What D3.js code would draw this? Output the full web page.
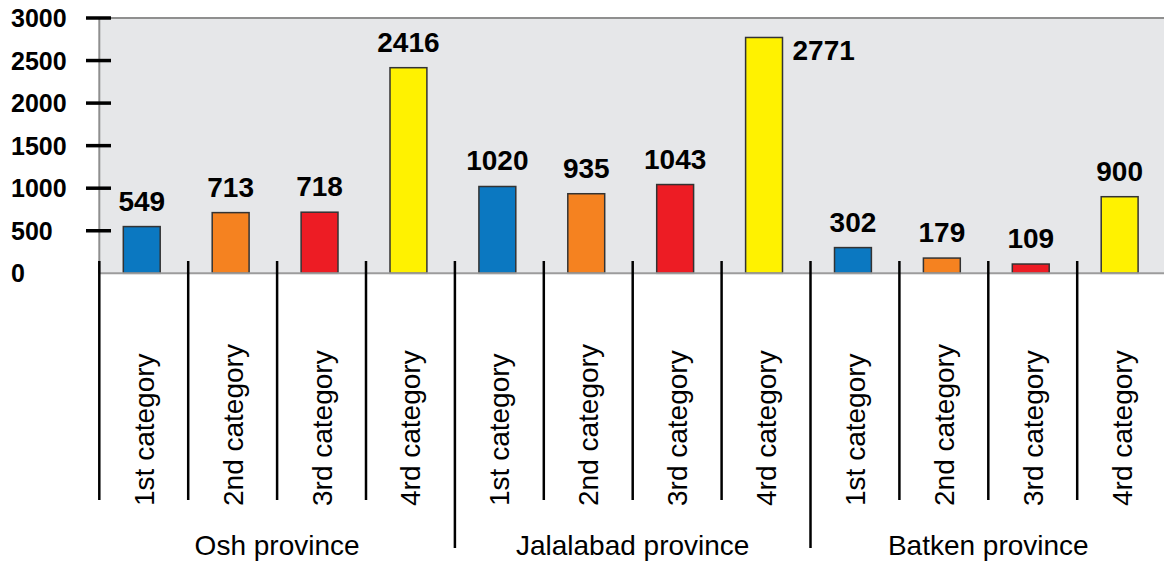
<!DOCTYPE html>
<html>
  <head>
      <title>Categories by province</title>
      <script src="https://cdn.jsdelivr.net/npm/d3@7"></script>
      <style>
        body { margin:0; background:#fff; }
        text { font-family: "Liberation Sans", Arial, sans-serif; }
      </style>
  </head>
  <body>
        <div id="chart"></div>
        <script>
           var provinces = ["Osh province", "Jalalabad province", "Batken province"]
           var categories = ["1st category", "2nd category", "3rd category", "4rd category"]
           var oshValues = [549, 713, 718, 2416]
           var jalalabadValues = [1020, 935, 1043, 2771]
           var batkenValues = [302, 179, 109, 900]
           var yTicks = [0, 500, 1000, 1500, 2000, 2500, 3000]
           var colors = ["#0b78c1", "#f58220", "#ed1c24", "#fff200"]

           var seriesValues = [oshValues, jalalabadValues, batkenValues]
           var rows = []
           seriesValues.forEach((vals, pi) => {
               vals.forEach((v, ci) => rows.push({key: pi + "-" + ci, province: pi, cat: ci, value: v}))
           })

           var width = 1164, height = 563
           var plotLeft = 99.3, plotTop = 18, plotBottom = 273.3
           var step = 88.9

           var svg = d3.select("#chart").append("svg").attr("width", width).attr("height", height)

           var x = d3.scaleBand().domain(rows.map(d => d.key)).range([plotLeft, plotLeft + rows.length * step]).padding(0)
           var y = d3.scaleLinear().domain([0, 3000]).range([plotBottom, plotTop])

           // plot background
           svg.append("rect").attr("x", plotLeft).attr("y", plotTop).attr("width", rows.length * step).attr("height", plotBottom - plotTop)
              .attr("fill", "#e6e7e9")
           svg.append("line").attr("x1", plotLeft).attr("x2", width).attr("y1", plotTop).attr("y2", plotTop)
              .attr("stroke", "#8f8f8f").attr("stroke-width", 2)
           svg.append("line").attr("x1", plotLeft).attr("x2", plotLeft).attr("y1", plotTop).attr("y2", plotBottom)
              .attr("stroke", "#8f8f8f").attr("stroke-width", 2)

           // y axis: dashes + left aligned labels
           var yAxis = svg.append("g")
           yAxis.selectAll("line").data(yTicks.filter(t => t > 0)).enter().append("line")
              .attr("x1", 86).attr("x2", 111).attr("y1", d => y(d)).attr("y2", d => y(d))
              .attr("stroke", "#000").attr("stroke-width", 3.5)
           yAxis.selectAll("text").data(yTicks).enter().append("text")
              .attr("x", 11).attr("y", d => y(d) + 9).text(d => d)
              .attr("font-size", 25).attr("font-weight", "bold").attr("fill", "#000")

           // bars
           var barOffset = step * 0.27, barWidth = step * 0.415
           svg.selectAll("rect.bar").data(rows).enter().append("rect").attr("class", "bar")
              .attr("x", d => x(d.key) + barOffset).attr("width", barWidth)
              .attr("y", d => y(d.value)).attr("height", d => y(0) - y(d.value))
              .attr("fill", d => colors[d.cat]).attr("stroke", "#333").attr("stroke-width", 1.5)

           // baseline
           svg.append("line").attr("x1", plotLeft).attr("x2", width).attr("y1", plotBottom).attr("y2", plotBottom)
              .attr("stroke", "#9c9c9c").attr("stroke-width", 2)

           // value labels (move to the right of the bar when it reaches the top)
           var fitsAbove = d => y(d.value) - 16 - 20 > plotTop
           svg.selectAll("text.val").data(rows).enter().append("text").attr("class", "val")
              .attr("x", d => fitsAbove(d) ? x(d.key) + barOffset + barWidth / 2 : x(d.key) + barOffset + barWidth + 10)
              .attr("y", d => fitsAbove(d) ? y(d.value) - 16 : y(d.value) + 23)
              .attr("text-anchor", d => fitsAbove(d) ? "middle" : "start")
              .attr("font-size", 28).attr("font-weight", "bold").attr("fill", "#000")
              .text(d => d.value)

           // separators
           svg.selectAll("line.sep").data(rows).enter().append("line").attr("class", "sep")
              .attr("x1", d => x(d.key)).attr("x2", d => x(d.key))
              .attr("y1", 261).attr("y2", d => (d.cat == 0 && d.province > 0) ? 548 : 500)
              .attr("stroke", "#000").attr("stroke-width", 2.5)

           // category labels
           svg.selectAll("text.cat").data(rows).enter().append("text").attr("class", "cat")
              .attr("transform", d => "translate(" + (x(d.key) + step / 2 + 10) + ",506) rotate(-90)")
              .attr("font-size", 28).attr("fill", "#000")
              .text(d => categories[d.cat])

           // province labels
           svg.selectAll("text.prov").data(provinces).enter().append("text").attr("class", "prov")
              .attr("x", (d, i) => x(i + "-0") + step * 2).attr("y", 555)
              .attr("text-anchor", "middle").attr("font-size", 28).attr("fill", "#000")
              .text(d => d)
        </script>
  </body>
</html>
